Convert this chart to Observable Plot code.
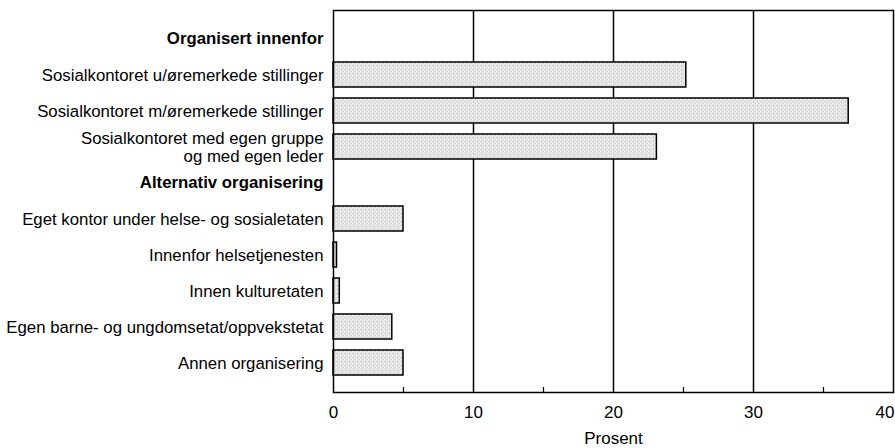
<!DOCTYPE html>
<html>
<head>
<meta charset="utf-8">
<script src="https://cdn.jsdelivr.net/npm/d3@7"></script>
<script src="https://cdn.jsdelivr.net/npm/@observablehq/plot@0.6"></script>
<style>
  html, body { margin: 0; padding: 0; background: #fff; }
</style>
</head>
<body>
<div id="chart"></div>
<script>
// Row order (top to bottom), including group headers
const categories = [
  "Organisert innenfor",
  "Sosialkontoret u/øremerkede stillinger",
  "Sosialkontoret m/øremerkede stillinger",
  "Sosialkontoret med egen gruppe\nog med egen leder",
  "Alternativ organisering",
  "Eget kontor under helse- og sosialetaten",
  "Innenfor helsetjenesten",
  "Innen kulturetaten",
  "Egen barne- og ungdomsetat/oppvekstetat",
  "Annen organisering"
];
const headers = ["Organisert innenfor", "Alternativ organisering"];
const barLabels = [
  "Sosialkontoret u/øremerkede stillinger",
  "Sosialkontoret m/øremerkede stillinger",
  "Sosialkontoret med egen gruppe\nog med egen leder",
  "Eget kontor under helse- og sosialetaten",
  "Innenfor helsetjenesten",
  "Innen kulturetaten",
  "Egen barne- og ungdomsetat/oppvekstetat",
  "Annen organisering"
];
const values = [25.2, 36.8, 23.1, 5.0, 0.25, 0.45, 4.2, 5.0];
const xTicks = [0, 10, 20, 30];
const lastTick = [40];
const gridTicks = [10, 20, 30];
const minorTicks = [5, 15, 25, 35];

const data = barLabels.map((label, i) => ({label, value: values[i]}));
const items = categories.filter(c => !headers.includes(c));

const plot = Plot.plot({
  width: 895,
  height: 448,
  marginLeft: 333,
  marginRight: 2,
  marginTop: 10,
  marginBottom: 56,
  style: {fontFamily: "'Liberation Sans', Arial, sans-serif", fontSize: "16.8px", color: "#000", background: "#fff"},
  x: {domain: [0, 40]},
  y: {type: "band", domain: categories, paddingInner: 0.295, paddingOuter: 0.41, axis: null},
  marks: [
    Plot.ruleX(gridTicks, {stroke: "#000", strokeWidth: 1.5}),
    Plot.barX(data, {x: "value", y: "label", fill: "url(#stip)", stroke: "#000", strokeWidth: 1.5}),
    Plot.frame({stroke: "#000", strokeWidth: 1.5}),
    Plot.axisX(minorTicks, {tickSize: -5, tickFormat: () => "", strokeWidth: 1.2, label: null}),
    Plot.axisX(xTicks, {tickSize: 0, tickPadding: 13, fontSize: 17, label: "Prosent", labelAnchor: "center", labelArrow: "none", labelOffset: 51}),
    Plot.axisX(lastTick, {tickSize: 0, tickPadding: 13, fontSize: 17, textAnchor: "end", dx: 1, label: null}),
    Plot.text(items, {y: d => d, frameAnchor: "left", dx: -10, textAnchor: "end", fontSize: 16.8, lineHeight: 1.08, fill: "#000"}),
    Plot.text(headers, {y: d => d, frameAnchor: "left", dx: -10, textAnchor: "end", fontSize: 16.8, fontWeight: "bold", fill: "#000"})
  ]
});

const ns = "http://www.w3.org/2000/svg";
const defs = document.createElementNS(ns, "defs");
defs.innerHTML = `<pattern id="stip" width="4" height="4" patternUnits="userSpaceOnUse">
  <rect width="4" height="4" fill="#e6e6e6"/>
  <rect x="1" y="1" width="1" height="1" fill="#b9b9b9"/>
  <rect x="3" y="3" width="1" height="1" fill="#cdcdcd"/>
  <rect x="0" y="3" width="1" height="1" fill="#f2f2f2"/>
</pattern>`;
plot.insertBefore(defs, plot.firstChild);
document.getElementById("chart").appendChild(plot);
</script>
</body>
</html>
